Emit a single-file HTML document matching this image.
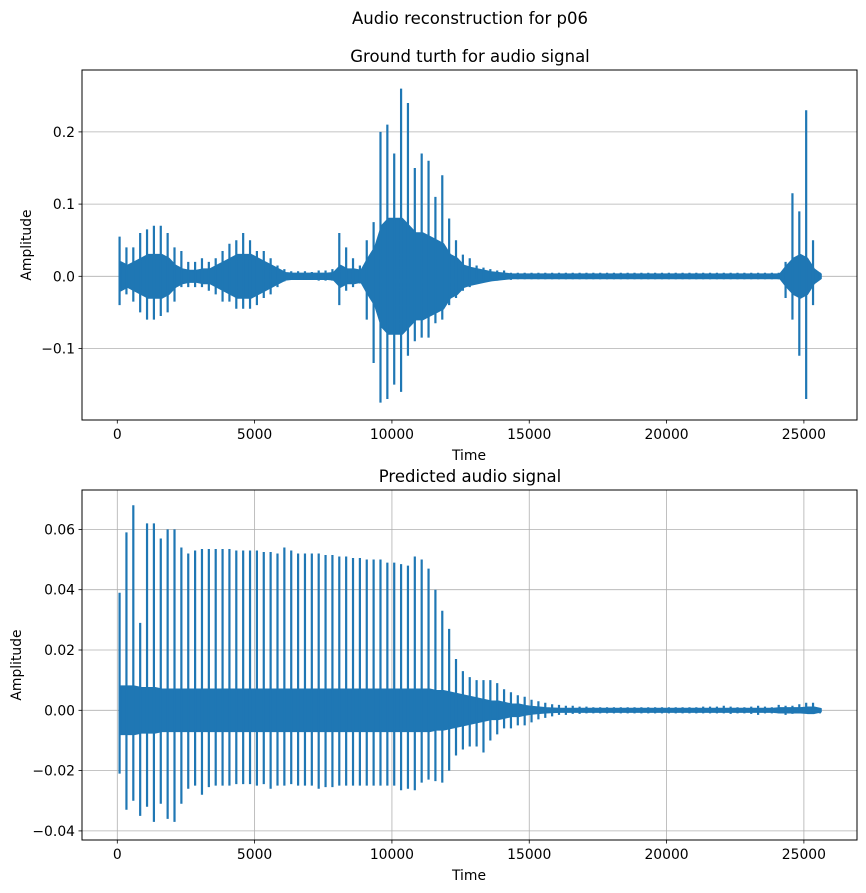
<!DOCTYPE html>
<html><head><meta charset="utf-8"><style>
body{margin:0;background:#fff;}
svg{display:block;font-family:"DejaVu Sans","Liberation Sans",sans-serif;}
</style></head><body>
<svg id="fig" width="866" height="893" viewBox="0 0 866 893">
<rect width="866" height="893" fill="#fff"/>
<text x="470" y="24" font-size="16.5" text-anchor="middle">Audio reconstruction for p06</text>
<text x="470" y="62" font-size="16.5" text-anchor="middle">Ground turth for audio signal</text>
<text x="470" y="482" font-size="16.5" text-anchor="middle">Predicted audio signal</text>
<text x="469" y="460" font-size="13.9" text-anchor="middle">Time</text>
<text x="469" y="880" font-size="13.9" text-anchor="middle">Time</text>
<text transform="translate(31,245) rotate(-90)" font-size="13.9" text-anchor="middle">Amplitude</text>
<text transform="translate(21,665) rotate(-90)" font-size="13.9" text-anchor="middle">Amplitude</text>
<g id="top"></g>
<g id="bot"></g>
</svg>
<script>
// shared x ticks
const xTicks = [0,5000,10000,15000,20000,25000];
const xTickLabels = ["0","5000","10000","15000","20000","25000"];
const binStep = 250;
// Ground truth (x0.01)
const topYTicks = [-0.1,0,0.1,0.2];
const topYTickLabels = ["\u22120.1","0.0","0.1","0.2"];
const topUpper = [5.5,4,4,6,6.5,7,7,6,4,3.5, 2,2,2.5,2,2.5,3.5,4.5,5,6,5, 3.5,3.5,2.5,1.5,1,0.7,0.7,0.7,0.6,0.8,
 0.8,1,6,4,2.5,1.5,5,7.5,20,21, 17,26,24,15,17,16,11,14,8,5, 3,2.5,1.5,1.2,1,0.8,0.8,0.5,0.5,0.5,
 0.5,0.5,0.5,0.5,0.5,0.5,0.5,0.5,0.5,0.5, 0.5,0.5,0.5,0.5,0.5,0.5,0.5,0.5,0.5,0.5, 0.5,0.5,0.5,0.5,0.5,0.5,0.5,0.5,0.5,0.5,
 0.5,0.5,0.5,0.5,0.5,0.5,0.5, 2,11.5,9,23,5,0.5];
const topLower = [-4,-2.5,-3.5,-5,-6,-6,-5.5,-5,-3.5,-1.5, -1.5,-1.5,-1.5,-2,-2.5,-3.5,-3.5,-4.5,-4.5,-4.5, -4,-3,-2.5,-1.5,-0.7,-0.5,-0.5,-0.5,-0.5,-0.6,
 -0.6,-0.6,-4,-2,-1.5,-1,-6,-12,-17.5,-17, -15,-16,-11,-9,-8.5,-8.5,-6.5,-6,-4,-3, -2,-1.5,-1,-0.8,-0.7,-0.6,-0.5,-0.5,-0.4,-0.4,
 -0.4,-0.4,-0.4,-0.4,-0.4,-0.4,-0.4,-0.4,-0.4,-0.4, -0.4,-0.4,-0.4,-0.4,-0.4,-0.4,-0.4,-0.4,-0.4,-0.4, -0.4,-0.4,-0.4,-0.4,-0.4,-0.4,-0.4,-0.4,-0.4,-0.4,
 -0.4,-0.4,-0.4,-0.4,-0.4,-0.4,-0.4, -3,-6,-11,-17,-4,-0.3];
const topCore = [2,1.5,2,2.5,3,3,3,2.5,1.5,1, 0.8,0.8,1,1,1.5,2,2.5,3,3,3, 2.5,2,1.5,1,0.5,0.4,0.4,0.4,0.4,0.4,
 0.4,0.5,1.5,1,1,0.8,2.5,4,7,8, 8,8,7,6,6,5.5,5,4.5,3,2.5, 1.5,1.2,1,0.8,0.6,0.5,0.4,0.3,0.3,0.3,
 0.3,0.3,0.3,0.3,0.3,0.3,0.3,0.3,0.3,0.3, 0.3,0.3,0.3,0.3,0.3,0.3,0.3,0.3,0.3,0.3, 0.3,0.3,0.3,0.3,0.3,0.3,0.3,0.3,0.3,0.3,
 0.3,0.3,0.3,0.3,0.3,0.3,0.3, 1.5,2.5,3,2.5,1,0.3];
// Predicted (x0.001)
const botYTicks = [-0.04,-0.02,0,0.02,0.04,0.06];
const botYTickLabels = ["\u22120.04","\u22120.02","0.00","0.02","0.04","0.06"];
const botUpper = [39,59,68,29,62,62,57,60,60,54, 52,53,53.5,53.5,53.5,53.5,53.5,53,53,53, 53,52.5,52.5,52,54,53,52,52,52,52,
 51.5,51.5,51,51,50.5,50.5,50,50,50,49, 49,48.5,48,51,50,47,40,33,27,17, 13,11,10,10,10,9,7,6,5,4.5,
 3.5,3,2.5,2,1.8,1.5,1.5,1.2,1.2,1, 1,1,1,1,1,1,1,1,1,1, 1,1,1,1,1,1.2,1.2,1.2,1.5,1.2,
 1,1,1.2,1.5,1.2,1,1.8,1.5,1.5,2, 2.5,2.5,0];
const botLower = [-21,-33,-30,-35,-32,-37,-31,-36,-37,-31, -26,-25,-28,-25.5,-25,-25,-25,-24.5,-24.5,-24.5, -25,-24.5,-26,-25,-25,-24.5,-25,-25,-25,-26,
 -25.5,-25.5,-25,-25,-25,-25,-25,-25,-25,-25, -25,-26.5,-26,-26.5,-24,-23,-23.5,-24,-20,-15, -13,-12,-12,-14,-10,-8,-6,-6,-5,-5,
 -4,-3,-2.5,-2,-1.5,-1.5,-1.2,-1.2,-1,-1, -1,-1,-1,-1,-1,-1,-1,-1,-1,-1, -1,-1,-1,-1,-1,-1,-1,-1,-1,-1.2,
 -1,-1,-1.2,-1.5,-1,-1,-1,-1.5,-1.2,-1, -0.5,-0.5,-1];
const botCore = [8,8,8,7.5,7.5,7.5,7,7,7,7, 7,7,7,7,7,7,7,7,7,7, 7,7,7,7,7,7,7,7,7,7,
 7,7,7,7,7,7,7,7,7,7, 7,7,7,7,7,7,6.5,6.5,6,5.5, 5,4.5,4,3.5,3,3,2.5,2,2,1.5,
 1.2,1,0.8,0.7,0.6,0.6,0.6,0.6,0.6,0.6, 0.6,0.6,0.6,0.6,0.6,0.6,0.6,0.6,0.6,0.6, 0.6,0.6,0.6,0.6,0.6,0.6,0.6,0.6,0.6,0.6,
 0.6,0.6,0.6,0.6,0.6,0.6,0.8,0.8,0.8,0.8, 1,1,0.5];

const NS='http://www.w3.org/2000/svg';
function mk(tag,attrs,parent){const e=document.createElementNS(NS,tag);for(const k in attrs)e.setAttribute(k,attrs[k]);parent.appendChild(e);return e;}

function drawChart(g, box, yMin, yMax, yTicks, yLabels, upper, lower, core, scale, xGrid, prefix){
  const xMin=-1285, xMax=26934;
  const X=v=>box.l+(v-xMin)/(xMax-xMin)*(box.r-box.l);
  const Y=v=>box.b-(v-yMin)/(yMax-yMin)*(box.b-box.t);
  if(xGrid){
    xTicks.forEach(t=>{
      const gl=mk('line',{x1:X(t),x2:X(t),y1:box.t,y2:box.b,stroke:'#b0b0b0','stroke-width':0.8},g);
      
      
    });
  }
  yTicks.forEach((t,i)=>{
    const gl=mk('line',{x1:box.l,x2:box.r,y1:Y(t),y2:Y(t),stroke:'#b0b0b0','stroke-width':0.8},g);
    
    
    mk('line',{x1:box.l-3.5,x2:box.l,y1:Y(t),y2:Y(t),stroke:'#000','stroke-width':0.8},g);
    const tx=mk('text',{x:box.l-7,y:Y(t)+5,'font-size':13.9,'text-anchor':'end'},g);
    tx.textContent=yLabels[i];
    
    
  });
  xTicks.forEach((t,i)=>{
    mk('line',{x1:X(t),x2:X(t),y1:box.b,y2:box.b+3.5,stroke:'#000','stroke-width':0.8},g);
    const tx=mk('text',{x:X(t),y:box.b+19,'font-size':13.9,'text-anchor':'middle'},g);
    tx.textContent=xTickLabels[i];
    
    
  });
  // core band
  let top=[],bot=[];
  core.forEach((c,i)=>{const x=X(i*binStep+binStep/2);top.push(x+','+Y(c*scale));bot.unshift(x+','+Y(-c*scale));});
  const band=mk('polygon',{points:top.concat(bot).join(' '),fill:'#1f77b4',stroke:'#1f77b4','stroke-width':1.5,'stroke-linejoin':'round'},g);
  
  
  // spikes: vertical strokes per bin
  let d='';
  upper.forEach((u,i)=>{
    const x=X(i*binStep+binStep/3);
    d+='M'+x+','+Y(u*scale)+'L'+x+','+Y(lower[i]*scale);
  });
  const line=mk('path',{d:d,fill:'none',stroke:'#1f77b4','stroke-width':2.2,'stroke-linecap':'butt'},g);
  
  
  const fr=mk('rect',{x:box.l,y:box.t,width:box.r-box.l,height:box.b-box.t,fill:'none',stroke:'#000','stroke-width':1},g);
  
  
}
const tb={l:82,r:857,t:70,b:420};
const tyMin=-(420-276.3)/722, tyMax=(276.3-70)/722;
drawChart(document.getElementById('top'),tb,tyMin,tyMax,topYTicks,topYTickLabels,topUpper,topLower,topCore,0.01,false,'top');
const bb={l:82,r:857,t:490,b:840};
const byMin=-(840-710.3)/3015, byMax=(710.3-490)/3015;
drawChart(document.getElementById('bot'),bb,byMin,byMax,botYTicks,botYTickLabels,botUpper,botLower,botCore,0.001,true,'bottom');
</script>
</body></html>
